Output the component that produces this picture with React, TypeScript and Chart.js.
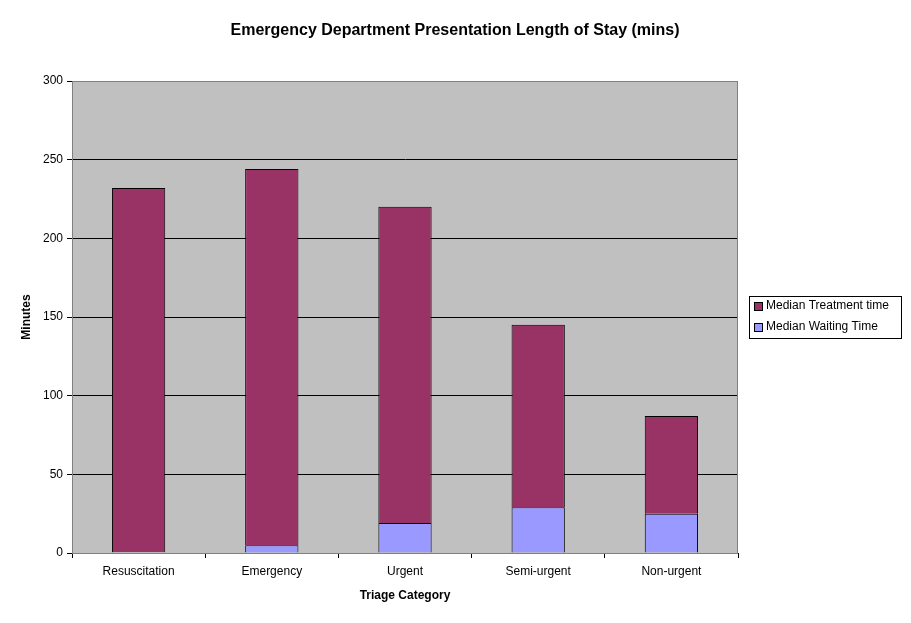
import React, { useEffect, useRef } from "react";
import { Chart, registerables } from "chart.js";
Chart.register(...registerables);

const categories = ["Resuscitation", "Emergency", "Urgent", "Semi-urgent", "Non-urgent"];
const waiting = [0.5, 5, 19, 29, 25];
const treatment = [231.5, 239, 201, 116, 62];
const seriesNames = ["Median Waiting Time", "Median Treatment time"];
const colors = ["#9999FF", "#993366"];
const FONT = "'Liberation Sans', Arial, sans-serif";

const decor = {
  id: "decor",
  beforeDraw(chart: any) {
    const { ctx, chartArea: a } = chart;
    ctx.save();
    ctx.fillStyle = "#C0C0C0";
    ctx.fillRect(a.left, a.top, a.right - a.left, a.bottom - a.top);
    ctx.restore();
  },
  afterDraw(chart: any) {
    const { ctx, chartArea: a } = chart;
    ctx.save();
    ctx.strokeStyle = "#808080";
    ctx.lineWidth = 1;
    ctx.strokeRect(a.left + 0.5, a.top + 0.5, a.right - a.left - 1, a.bottom - a.top);
    ctx.fillStyle = "#000";
    ctx.font = `bold 16px ${FONT}`;
    ctx.textAlign = "center";
    ctx.textBaseline = "middle";
    ctx.fillText("Emergency Department Presentation Length of Stay (mins)", 455, 31);
    ctx.font = `bold 12px ${FONT}`;
    ctx.fillText("Triage Category", (a.left + a.right) / 2, 596);
    ctx.translate(27, (a.top + a.bottom) / 2);
    ctx.rotate(-Math.PI / 2);
    ctx.fillText("Minutes", 0, 0);
    ctx.restore();
    // legend
    ctx.save();
    const lx = 749, ly = 296, lw = 152, lh = 42;
    ctx.fillStyle = "#fff";
    ctx.fillRect(lx, ly, lw, lh);
    ctx.strokeStyle = "#000";
    ctx.strokeRect(lx + 0.5, ly + 0.5, lw, lh);
    ctx.font = `12px ${FONT}`;
    ctx.textBaseline = "middle";
    const items = [[1, 306], [0, 327]];
    for (const [i, y] of items) {
      ctx.fillStyle = colors[i];
      ctx.fillRect(754, y - 4, 8, 8);
      ctx.strokeRect(754.5, y - 3.5, 8, 8);
      ctx.fillStyle = "#000";
      ctx.fillText(seriesNames[i], 766, y);
    }
    ctx.restore();
  },
};

export default function App() {
  const ref = useRef<HTMLCanvasElement>(null);
  useEffect(() => {
    document.body.style.margin = "0";
    document.body.style.background = "#fff";
    const chart = new Chart(ref.current!, {
      type: "bar",
      data: {
        labels: categories,
        datasets: [
          { label: seriesNames[0], data: waiting, backgroundColor: colors[0], borderColor: "#000", borderWidth: 1, barPercentage: 0.4, categoryPercentage: 1 },
          { label: seriesNames[1], data: treatment, backgroundColor: colors[1], borderColor: "#000", borderWidth: 1, barPercentage: 0.4, categoryPercentage: 1 },
        ],
      },
      options: {
        responsive: false,
        animation: false,
        layout: { padding: { top: 81, right: 173, left: 0, bottom: 0 } },
        plugins: { legend: { display: false }, title: { display: false }, tooltip: { enabled: false } },
        scales: {
          x: {
            stacked: true,
            grid: { display: true, drawOnChartArea: false, color: "#000", tickLength: 5, offset: true },
            border: { color: "#000" },
            ticks: { color: "#000", font: { family: FONT, size: 12 }, padding: 6 },
            afterFit: (s: any) => { s.height = 70; },
          },
          y: {
            stacked: true,
            min: 0, max: 300,
            ticks: { stepSize: 50, color: "#000", font: { family: FONT, size: 12 }, padding: 4 },
            grid: { color: "#000", tickLength: 5 },
            border: { color: "#000" },
            afterFit: (s: any) => { s.width = 72; },
          },
        },
      },
      plugins: [decor],
    });
    return () => chart.destroy();
  }, []);
  return <canvas ref={ref} width={911} height={623} style={{ display: "block" }} />;
}
